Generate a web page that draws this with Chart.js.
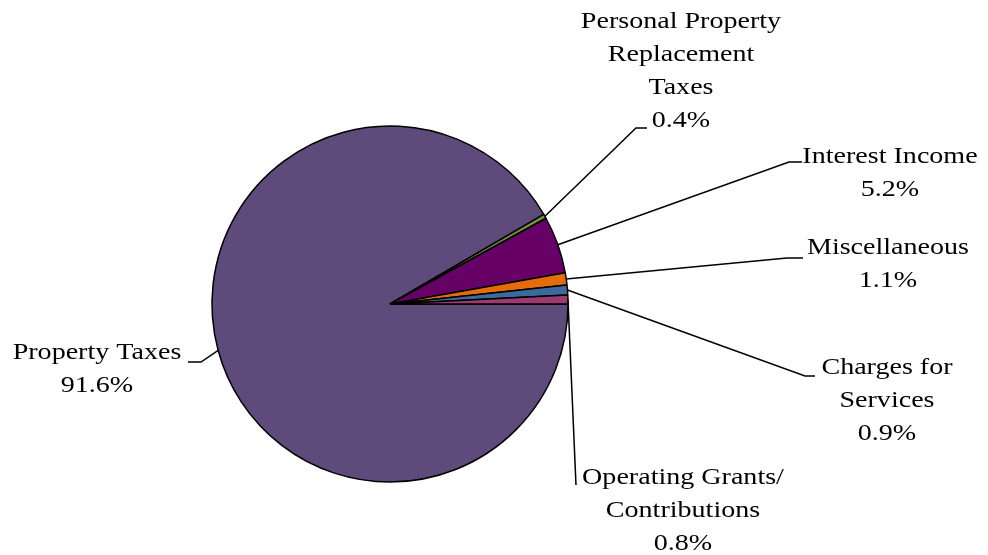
<!DOCTYPE html>
<html>
<head>
<meta charset="utf-8">
<script src="https://cdn.jsdelivr.net/npm/chart.js@4"></script>
<style>
  body { margin: 0; background: #fff; }
  canvas { display: block; }
</style>
</head>
<body>
<canvas id="pie" width="988" height="555"></canvas>
<script>
// slices listed clockwise starting at 3 o'clock
const categories = ['Property Taxes', 'Personal Property Replacement Taxes', 'Interest Income',
    'Miscellaneous', 'Charges for Services', 'Operating Grants/ Contributions'];
const shares = [91.6, 0.4, 5.2, 1.1, 0.9, 0.8];
const sliceColors = ['#5F4B7B', '#77933C', '#660066', '#E46C0A', '#3B6A9C', '#9B3B70'];

// label text lines (percent appended) and where the text + leader go
const labelLines = [
    ['Property Taxes'],
    ['Personal Property', 'Replacement', 'Taxes'],
    ['Interest Income'],
    ['Miscellaneous'],
    ['Charges for', 'Services'],
    ['Operating Grants/', 'Contributions']
];
const labelPlace = [
    { cx: 97, cy: 353, elbow: [201, 362], end: [188, 362] },
    { cx: 681, cy: 22, elbow: [636, 128], end: [647, 128] },
    { cx: 890, cy: 157, elbow: [789, 162], end: [802, 162] },
    { cx: 888, cy: 248, elbow: [787, 258], end: [803, 258] },
    { cx: 887, cy: 368, elbow: [805, 376], end: [815, 376] },
    { cx: 683, cy: 478, elbow: [576, 485], end: [576, 485] }
];

const leaderLabels = {
    id: 'leaderLabels',
    afterDatasetsDraw(chart) {
        const ctx = chart.ctx;
        const arcs = chart.getDatasetMeta(0).data;
        const stretch = 1.22; // the original text is drawn wide
        ctx.save();
        ctx.strokeStyle = '#000';
        ctx.lineWidth = 1.5;
        ctx.fillStyle = '#000';
        ctx.font = '23px "Liberation Serif", "Times New Roman", serif';
        ctx.textAlign = 'center';
        ctx.textBaseline = 'middle';
        arcs.forEach((arc, i) => {
            const p = arc.getProps(['x', 'y', 'startAngle', 'endAngle', 'outerRadius'], true);
            const mid = (p.startAngle + p.endAngle) / 2;
            const ax = p.x + Math.cos(mid) * p.outerRadius;
            const ay = p.y + Math.sin(mid) * p.outerRadius;
            const pl = labelPlace[i];
            ctx.beginPath();
            ctx.moveTo(ax, ay);
            ctx.lineTo(pl.elbow[0], pl.elbow[1]);
            ctx.lineTo(pl.end[0], pl.end[1]);
            ctx.stroke();
            const lines = labelLines[i].concat([shares[i].toFixed(1) + '%']);
            lines.forEach((t, k) => {
                ctx.save();
                ctx.translate(pl.cx, pl.cy + k * 33);
                ctx.scale(stretch, 1);
                ctx.fillText(t, 0, 0);
                ctx.restore();
            });
        });
        ctx.restore();
    }
};

new Chart(document.getElementById('pie'), {
    type: 'pie',
    data: {
        labels: categories,
        datasets: [{
            data: shares,
            backgroundColor: sliceColors,
            borderColor: '#000',
            borderWidth: 1.5
        }]
    },
    options: {
        responsive: false,
        animation: false,
        rotation: 90,
        radius: 178,
        layout: { padding: { left: 0, right: 208, top: 53, bottom: 0 } },
        plugins: {
            legend: { display: false },
            tooltip: { enabled: false }
        }
    },
    plugins: [leaderLabels]
});
</script>
</body>
</html>
